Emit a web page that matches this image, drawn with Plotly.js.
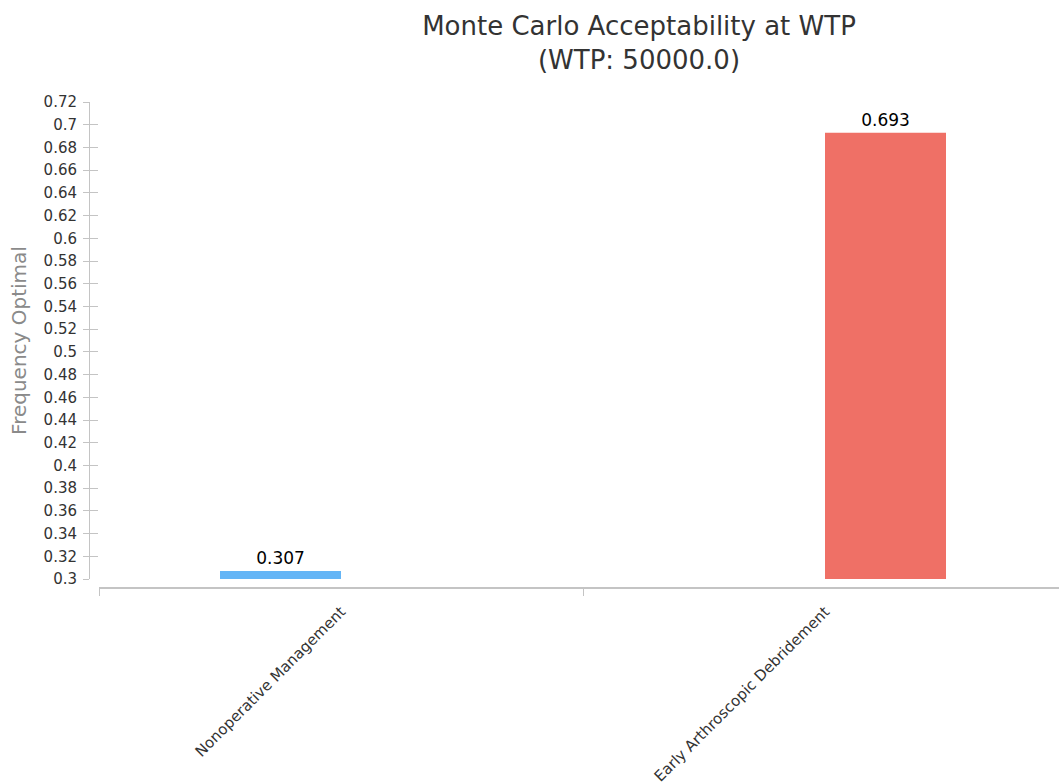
<!DOCTYPE html>
<html>
<head>
<meta charset="utf-8">
<script src="https://cdn.plot.ly/plotly-3.0.1.min.js"></script>
<style>
  html, body { margin: 0; padding: 0; background: #fff; overflow: hidden; }
  #chart { width: 1059px; height: 782px; }
</style>
</head>
<body>
<div id="chart"></div>
<script>
// Strategy categories and their acceptability at WTP = 50000
const categories = ['Nonoperative Management', 'Early Arthroscopic Debridement'];
const nonoperativeValues = [0.307, null];
const debridementValues = [null, 0.693];
const seriesColors = ['#64B5F6', '#EF7066'];

// Y tick labels
const yTickVals = [0.3, 0.32, 0.34, 0.36, 0.38, 0.4, 0.42, 0.44, 0.46, 0.48, 0.5,
                   0.52, 0.54, 0.56, 0.58, 0.6, 0.62, 0.64, 0.66, 0.68, 0.7, 0.72];
const yTickText = ['0.3', '0.32', '0.34', '0.36', '0.38', '0.4', '0.42', '0.44', '0.46', '0.48', '0.5',
                   '0.52', '0.54', '0.56', '0.58', '0.6', '0.62', '0.64', '0.66', '0.68', '0.7', '0.72'];

const FONT = 'DejaVu Sans, Verdana, sans-serif';

function barTrace(name, values, color) {
  return {
    type: 'bar',
    name: name,
    x: categories,
    y: values,
    marker: { color: color, line: { width: 0 } },
    text: values.map(v => (v === null ? '' : String(v))),
    textposition: 'outside',
    textfont: { family: FONT, size: 17, color: '#000' },
    cliponaxis: false,
    hoverinfo: 'x+y'
  };
}

const data = [
  barTrace(categories[0], nonoperativeValues, seriesColors[0]),
  barTrace(categories[1], debridementValues, seriesColors[1])
];

// pixel geometry of the plotting frame
const W = 1059, H = 782;
const L = 89, T = 102, B = 194;
const paperW = W - L, paperH = H - T - B;
const xStart = 10 / paperW;      // x axis begins slightly right of the y axis line
const yStart = 9 / paperH;       // x axis line sits slightly below the value range
const xRange = [-0.5, 1.5 - 8 / 484];

const axisGrey = '#c4c4c4';

const layout = {
  width: W,
  height: H,
  margin: { l: L, r: 0, t: T, b: B, pad: 0 },
  paper_bgcolor: '#fff',
  plot_bgcolor: '#fff',
  showlegend: false,
  barmode: 'group',
  bargap: 0.5,
  bargroupgap: 0,
  font: { family: FONT, color: '#333' },
  title: {
    text: 'Monte Carlo Acceptability at WTP<br>(WTP: 50000.0)',
    font: { family: FONT, size: 26, color: '#333' },
    xref: 'container', x: 639 / W, xanchor: 'center',
    yref: 'container', y: 1 - 35 / H, yanchor: 'top'
  },
  xaxis: {
    type: 'category',
    domain: [xStart, 1],
    range: xRange,
    anchor: 'free',
    position: 0,
    showline: true,
    linecolor: axisGrey,
    linewidth: 2,
    showgrid: false,
    zeroline: false,
    tickson: 'boundaries',
    ticks: 'outside',
    ticklen: 7,
    tickwidth: 1,
    tickcolor: axisGrey,
    tickangle: -45,
    ticklabelstandoff: 8,
    tickfont: { family: FONT, size: 15, color: '#333' }
  },
  xaxis2: {
    type: 'category',
    overlaying: 'x',
    domain: [xStart, 1],
    range: xRange,
    anchor: 'free',
    position: 0,
    showline: false,
    showgrid: false,
    zeroline: false,
    tickson: 'boundaries',
    ticks: 'inside',
    ticklen: 7,
    tickwidth: 1,
    tickcolor: axisGrey,
    showticklabels: false
  },
  yaxis: {
    domain: [yStart, 1],
    range: [0.3, 0.72],
    anchor: 'free',
    position: 0,
    showline: true,
    linecolor: axisGrey,
    linewidth: 1,
    showgrid: false,
    zeroline: false,
    tickmode: 'array',
    tickvals: yTickVals,
    ticktext: yTickText,
    ticks: 'outside',
    ticklen: 6,
    tickwidth: 1,
    tickcolor: axisGrey,
    ticklabelstandoff: 3,
    tickfont: { family: FONT, size: 15, color: '#333' },
    title: {
      text: 'Frequency Optimal',
      font: { family: FONT, size: 20, color: '#8a8a8a' },
      standoff: 10
    }
  },
  yaxis2: {
    overlaying: 'y',
    domain: [yStart, 1],
    range: [0.3, 0.72],
    anchor: 'free',
    position: 0,
    showline: false,
    showgrid: false,
    zeroline: false,
    tickmode: 'array',
    tickvals: yTickVals,
    ticks: 'inside',
    ticklen: 8,
    tickwidth: 1,
    tickcolor: axisGrey,
    showticklabels: false
  }
};

// empty trace so the overlay axes are laid out
data.push({ type: 'scatter', x: [], y: [], xaxis: 'x2', yaxis: 'y2', hoverinfo: 'skip' });

Plotly.newPlot('chart', data, layout, { displayModeBar: false, staticPlot: true });
</script>
</body>
</html>
